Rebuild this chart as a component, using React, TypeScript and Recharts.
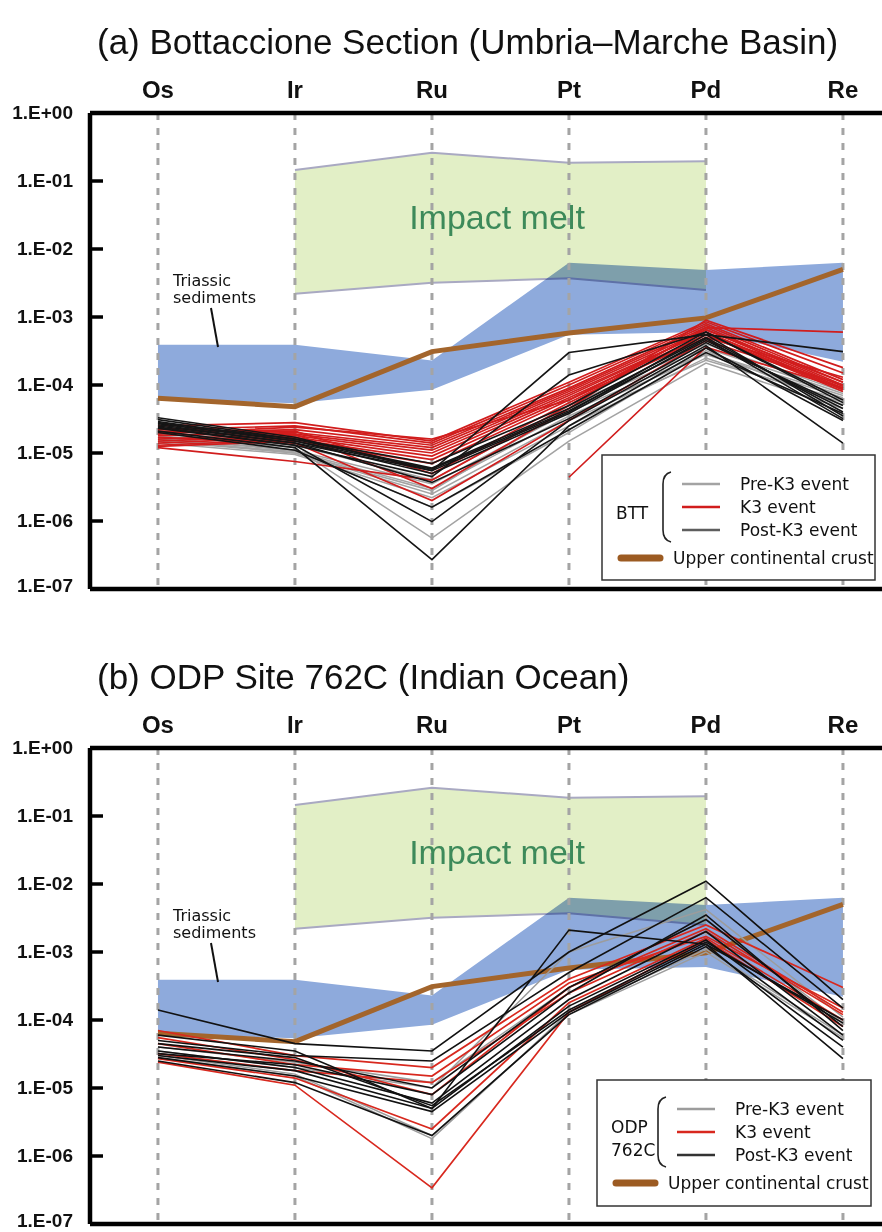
import React from 'react';
import { ComposedChart, Line, Area, XAxis, YAxis, ReferenceLine } from 'recharts';

const ELEMENTS = ['Os', 'Ir', 'Ru', 'Pt', 'Pd', 'Re'];
const Y_TICKS = [1e-7, 1e-6, 1e-5, 1e-4, 1e-3, 1e-2, 1e-1, 1];

const MELT_HIGH = [null, 0.145, 0.26, 0.185, 0.195, null];
const MELT_LOW = [null, 2.2e-3, 3.2e-3, 3.7e-3, 2.5e-3, null];
const TRIASSIC_HIGH = [3.9e-4, 3.9e-4, 2.3e-4, 6.3e-3, 4.9e-3, 6.3e-3];
const TRIASSIC_LOW = [6.2e-5, 5.4e-5, 8.5e-5, 5.5e-4, 6.0e-4, 2.2e-4];
const UCC = [6.4e-5, 4.8e-5, 3.1e-4, 5.8e-4, 9.7e-4, 5.0e-3];

// (a) Bottaccione section samples
const BTT_PRE = [
  [1.6e-5, 1.0e-5, 2.5e-6, 3.0e-5, 2.3e-4, 6.0e-5],
  [1.5e-5, 1.05e-5, 3.0e-6, 3.5e-5, 2.8e-4, 6.5e-5],
  [1.7e-5, 1.1e-5, 3.5e-6, 4.0e-5, 3.0e-4, 7.0e-5],
  [1.4e-5, 9.5e-6, 2.2e-6, 2.5e-5, 2.5e-4, 5.5e-5],
  [1.8e-5, 1.2e-5, 5.6e-7, 1.5e-5, 2.1e-4, 4.5e-5],
  [1.6e-5, 1.1e-5, 1.6e-6, 2.0e-5, 3.2e-4, 5.0e-5],
  [1.9e-5, 1.3e-5, 4.0e-6, 5.0e-5, 4.0e-4, 8.0e-5],
  [1.5e-5, 1.0e-5, 2.8e-6, 4.5e-5, 3.5e-4, 7.5e-5],
];
const BTT_K3 = [
  [2.5e-5, 2.8e-5, 1.5e-5, 1.1e-4, 8.5e-4, 1.5e-4],
  [2.2e-5, 2.5e-5, 1.4e-5, 1.0e-4, 8.0e-4, 1.2e-4],
  [2.0e-5, 2.2e-5, 1.3e-5, 9.0e-5, 7.5e-4, 1.1e-4],
  [1.8e-5, 2.0e-5, 1.2e-5, 8.5e-5, 7.0e-4, 1.0e-4],
  [1.6e-5, 1.9e-5, 1.1e-5, 8.0e-5, 6.5e-4, 9.5e-5],
  [1.5e-5, 1.8e-5, 1.0e-5, 7.5e-5, 6.0e-4, 9.0e-5],
  [1.4e-5, 1.7e-5, 9.0e-6, 7.0e-5, 6.0e-4, 8.5e-5],
  [1.3e-5, 1.6e-5, 8.0e-6, 6.5e-5, 5.5e-4, 8.0e-5],
  [1.25e-5, 1.5e-5, 7.0e-6, 6.0e-5, 5.0e-4, 1.3e-4],
  [1.2e-5, 7.5e-6, 4.0e-6, 5.0e-5, 7.0e-4, 6.0e-4],
  [2.3e-5, 1.9e-5, 3.0e-6, 4.5e-5, 9.0e-4, 1.8e-4],
  [1.7e-5, 1.4e-5, 2.0e-6, 3.0e-5, 4.5e-4, 1.0e-4],
  [null, null, null, 4.4e-6, 3.6e-4, 9.0e-5],
  [1.9e-5, 2.4e-5, 1.6e-5, 6.0e-5, 6.5e-4, 1.1e-4],
  [2.1e-5, 2.1e-5, 5.0e-6, 5.5e-5, 5.5e-4, 8.5e-5],
];
const BTT_POST = [
  [3.3e-5, 1.7e-5, 5.5e-6, 4.0e-5, 5.5e-4, 3.5e-5],
  [3.1e-5, 1.6e-5, 6.0e-6, 4.5e-5, 5.0e-4, 4.0e-5],
  [2.9e-5, 1.5e-5, 5.0e-6, 3.8e-5, 4.8e-4, 3.2e-5],
  [2.7e-5, 1.5e-5, 5.8e-6, 4.2e-5, 4.5e-4, 4.5e-5],
  [2.5e-5, 1.4e-5, 3.7e-6, 3.2e-5, 4.2e-4, 5.0e-5],
  [2.3e-5, 1.3e-5, 9.8e-7, 3.0e-5, 3.8e-4, 1.4e-5],
  [2.1e-5, 1.2e-5, 2.7e-7, 2.5e-5, 3.5e-4, 3.0e-5],
  [2.6e-5, 1.4e-5, 5.5e-6, 3.0e-4, 5.5e-4, 3.1e-4],
  [2.4e-5, 1.3e-5, 4.5e-6, 1.4e-4, 6.0e-4, 6.0e-5],
  [2.8e-5, 1.6e-5, 7.0e-6, 5.0e-5, 6.0e-4, 5.5e-5],
  [2.0e-5, 1.1e-5, 1.6e-6, 2.2e-5, 3.0e-4, 3.8e-5],
];

// (b) ODP Site 762C samples
const ODP_PRE = [
  [3.0e-5, 1.6e-5, 2.0e-6, 1.2e-4, 1.0e-3, 5.5e-5],
  [2.8e-5, 1.5e-5, 1.8e-6, 1.3e-4, 1.1e-3, 6.0e-5],
  [3.5e-5, 2.0e-5, 1.0e-5, 1.0e-3, 4.2e-3, 1.1e-4],
  [4.0e-5, 2.4e-5, 1.2e-5, 3.0e-4, 3.0e-3, 9.0e-5],
];
const ODP_K3 = [
  [7.0e-5, 3.0e-5, 2.0e-5, 4.0e-4, 2.5e-3, 3.0e-4],
  [4.5e-5, 2.2e-5, 1.5e-5, 3.5e-4, 1.7e-3, 1.5e-4],
  [3.2e-5, 1.8e-5, 1.2e-5, 2.5e-4, 2.0e-3, 1.2e-4],
  [2.4e-5, 1.1e-5, 3.4e-7, 1.3e-4, 1.5e-3, 8.0e-5],
  [2.7e-5, 1.4e-5, 2.5e-6, 1.8e-4, 1.6e-3, 1.0e-4],
  [5.5e-5, 2.6e-5, 8.0e-6, 3.0e-4, 2.2e-3, 1.3e-4],
];
const ODP_POST = [
  [1.4e-4, 4.5e-5, 3.5e-5, 1.0e-3, 1.1e-2, 2.0e-4],
  [6.0e-5, 3.5e-5, 5.0e-6, 2.1e-3, 1.3e-3, 1.0e-4],
  [5.0e-5, 3.0e-5, 2.5e-5, 5.0e-4, 6.3e-3, 1.5e-4],
  [4.0e-5, 2.5e-5, 1.0e-5, 3.0e-4, 3.0e-3, 8.0e-5],
  [3.5e-5, 2.0e-5, 6.0e-6, 2.0e-4, 2.0e-3, 6.0e-5],
  [3.0e-5, 1.8e-5, 5.0e-6, 1.6e-4, 1.5e-3, 5.0e-5],
  [2.8e-5, 1.5e-5, 4.5e-6, 1.3e-4, 1.3e-3, 2.7e-5],
  [2.5e-5, 1.2e-5, 2.0e-6, 1.2e-4, 1.2e-3, 4.0e-5],
  [3.2e-5, 2.2e-5, 8.0e-6, 2.5e-4, 3.5e-3, 7.0e-5],
  [4.5e-5, 2.8e-5, 5.5e-6, 1.4e-4, 1.4e-3, 9.0e-5],
];

const FONT = '"Liberation Sans", Arial, sans-serif';
const LEG_FONT = '"DejaVu Sans", Verdana, sans-serif';
const W = 882;
const H = 600;
const PLOT_LEFT = 90;

function fmtExp(v: number) {
  const e = Math.round(Math.log10(v));
  return '1.E' + (e >= 0 ? '+' : '-') + String(Math.abs(e)).padStart(2, '0');
}

function buildRows(pre: any[], k3: any[], post: any[]) {
  return ELEMENTS.map((el, i) => {
    const row: any = {
      x: i,
      el,
      melt: MELT_HIGH[i] == null ? null : [MELT_LOW[i], MELT_HIGH[i]],
      tri: [TRIASSIC_LOW[i], TRIASSIC_HIGH[i]],
      ucc: UCC[i],
    };
    pre.forEach((s, j) => (row['pre' + j] = s[i]));
    k3.forEach((s, j) => (row['k3' + j] = s[i]));
    post.forEach((s, j) => (row['post' + j] = s[i]));
    return row;
  });
}

const YTick = (props: any) => {
  const { x, y, payload } = props;
  const e = Math.round(Math.log10(payload.value));
  const inner = e < 0 && e > -7;
  return (
    <g>
      {inner && <line x1={x} x2={x + 13} y1={y} y2={y} stroke="#000" strokeWidth={3.5} />}
      <text x={x - 17} y={y + (e === -7 ? 3 : 6)} textAnchor="end" fontFamily={FONT} fontWeight="bold" fontSize={19} fill="#111">
        {fmtExp(payload.value)}
      </text>
    </g>
  );
};

const TopTick = (props: any) => {
  const { x, y, payload } = props;
  return (
    <text x={x} y={y - 15} textAnchor="middle" fontFamily={FONT} fontWeight="bold" fontSize={24} fill="#111">
      {ELEMENTS[payload.value]}
    </text>
  );
};

type PanelProps = {
  top: number;
  title: string;
  pre: any[];
  k3: any[];
  post: any[];
  colors: { pre: string; k3: string; post: string; legPost: string };
  legend: { x: number; y: number; w: number; h: number; group: string[] };
};

function Panel({ top, title, pre, k3, post, colors, legend }: PanelProps) {
  const rows = buildRows(pre, k3, post);
  const L = legend;
  const lineX1 = L.x + 80;
  const rowY0 = L.y + 29;
  return (
    <div style={{ position: 'absolute', left: 0, top, width: W, height: H }}>
      <ComposedChart width={W} height={H} data={rows} margin={{ top: 73, right: 0, bottom: 11, left: 0 }}>
        <XAxis
          type="number"
          dataKey="x"
          orientation="top"
          domain={[-0.496, 5.285]}
          allowDataOverflow
          ticks={[0, 1, 2, 3, 4, 5]}
          interval={0}
          height={40}
          axisLine={{ stroke: '#000', strokeWidth: 4.5 }}
          tickLine={false}
          tickSize={0}
          tickMargin={0}
          tick={<TopTick />}
        />
        <YAxis
          type="number"
          scale="log"
          domain={[1e-7, 1]}
          allowDataOverflow
          ticks={Y_TICKS}
          interval={0}
          width={PLOT_LEFT}
          axisLine={{ stroke: '#000', strokeWidth: 4.5 }}
          tickLine={false}
          tickSize={0}
          tickMargin={0}
          tick={<YTick />}
        />
        <Area
          type="linear"
          dataKey="melt"
          stroke="#a9a9c2"
          strokeWidth={2}
          fill="#e2efc6"
          fillOpacity={1}
          dot={false}
          activeDot={false}
          isAnimationActive={false}
        />
        <Area
          className="tri-band"
          type="linear"
          dataKey="tri"
          stroke="none"
          fill="#8eaadc"
          fillOpacity={1}
          dot={false}
          activeDot={false}
          isAnimationActive={false}
        />
        {ELEMENTS.map((el, i) => (
          <ReferenceLine key={el} x={i} stroke="#a4a4a4" strokeWidth={3} strokeDasharray="7 8" />
        ))}
        <Line type="linear" dataKey="ucc" stroke="#a3652c" strokeWidth={5} dot={false} activeDot={false} isAnimationActive={false} />
        {pre.map((_, j) => (
          <Line key={'p' + j} type="linear" dataKey={'pre' + j} stroke={colors.pre} strokeWidth={1.5} dot={false} activeDot={false} isAnimationActive={false} />
        ))}
        {k3.map((_, j) => (
          <Line key={'k' + j} type="linear" dataKey={'k3' + j} stroke={colors.k3} strokeWidth={1.7} dot={false} activeDot={false} isAnimationActive={false} />
        ))}
        {post.map((_, j) => (
          <Line key={'b' + j} type="linear" dataKey={'post' + j} stroke={colors.post} strokeWidth={1.6} dot={false} activeDot={false} isAnimationActive={false} />
        ))}
        <ReferenceLine y={1e-7} stroke="#000" strokeWidth={4.5} />
      </ComposedChart>
      <svg width={W} height={H} style={{ position: 'absolute', left: 0, top: 0, pointerEvents: 'none' }}>
        <text x={97} y={54} fontFamily={FONT} fontSize={35} fill="#111">{title}</text>
        <text x={497} y={229} textAnchor="middle" fontFamily={FONT} fontSize={34} fill="#3d8a5a">Impact melt</text>
        <text x={173} y={286} fontFamily={LEG_FONT} fontSize={16} fill="#111">Triassic</text>
        <text x={173} y={303} fontFamily={LEG_FONT} fontSize={16} fill="#111">sediments</text>
        <line x1={211} y1={308} x2={218} y2={347} stroke="#111" strokeWidth={2} />
        <rect x={L.x} y={L.y} width={L.w} height={L.h} fill="#fff" stroke="#333" strokeWidth={1.5} />
        {L.group.map((g, i) => (
          <text key={g} x={L.x + 14} y={rowY0 + 29 + 6 - (L.group.length - 1) * 11.5 + i * 23} fontFamily={LEG_FONT} fontSize={17} fill="#111">{g}</text>
        ))}
        <path
          d={`M ${L.x + 69} ${rowY0 - 12} Q ${L.x + 61} ${rowY0 - 10} ${L.x + 61} ${rowY0} L ${L.x + 61} ${rowY0 + 46} Q ${L.x + 61} ${rowY0 + 56} ${L.x + 69} ${rowY0 + 58}`}
          fill="none"
          stroke="#222"
          strokeWidth={1.6}
        />
        <line x1={lineX1} x2={lineX1 + 38} y1={rowY0} y2={rowY0} stroke={colors.pre} strokeWidth={2.5} />
        <line x1={lineX1} x2={lineX1 + 38} y1={rowY0 + 23} y2={rowY0 + 23} stroke={colors.k3} strokeWidth={2.5} />
        <line x1={lineX1} x2={lineX1 + 38} y1={rowY0 + 46} y2={rowY0 + 46} stroke={colors.legPost} strokeWidth={2.5} />
        <text x={L.x + 138} y={rowY0 + 6} fontFamily={LEG_FONT} fontSize={17} fill="#111">Pre-K3 event</text>
        <text x={L.x + 138} y={rowY0 + 29} fontFamily={LEG_FONT} fontSize={17} fill="#111">K3 event</text>
        <text x={L.x + 138} y={rowY0 + 52} fontFamily={LEG_FONT} fontSize={17} fill="#111">Post-K3 event</text>
        <line x1={L.x + 19} x2={L.x + 58} y1={L.y + 103} y2={L.y + 103} stroke="#9c5b22" strokeWidth={7} strokeLinecap="round" />
        <text x={L.x + 71} y={L.y + 109} fontFamily={LEG_FONT} fontSize={17} fill="#111">Upper continental crust</text>
      </svg>
    </div>
  );
}

export default function App() {
  return (
    <div style={{ position: 'absolute', left: 0, top: 0, width: 882, height: 1232, background: '#fff', overflow: 'hidden' }}>
      <style>{'.tri-band { mix-blend-mode: multiply; }'}</style>
      <Panel
        top={0}
        title="(a) Bottaccione Section (Umbria–Marche Basin)"
        pre={BTT_PRE}
        k3={BTT_K3}
        post={BTT_POST}
        colors={{ pre: '#a3a3a3', k3: '#d11d1d', post: '#151515', legPost: '#5e5e5e' }}
        legend={{ x: 602, y: 455, w: 273, h: 125, group: ['BTT'] }}
      />
      <Panel
        top={635}
        title="(b) ODP Site 762C (Indian Ocean)"
        pre={ODP_PRE}
        k3={ODP_K3}
        post={ODP_POST}
        colors={{ pre: '#9c9c9c', k3: '#d8281e', post: '#111111', legPost: '#333333' }}
        legend={{ x: 597, y: 445, w: 274, h: 126, group: ['ODP', '762C'] }}
      />
    </div>
  );
}
